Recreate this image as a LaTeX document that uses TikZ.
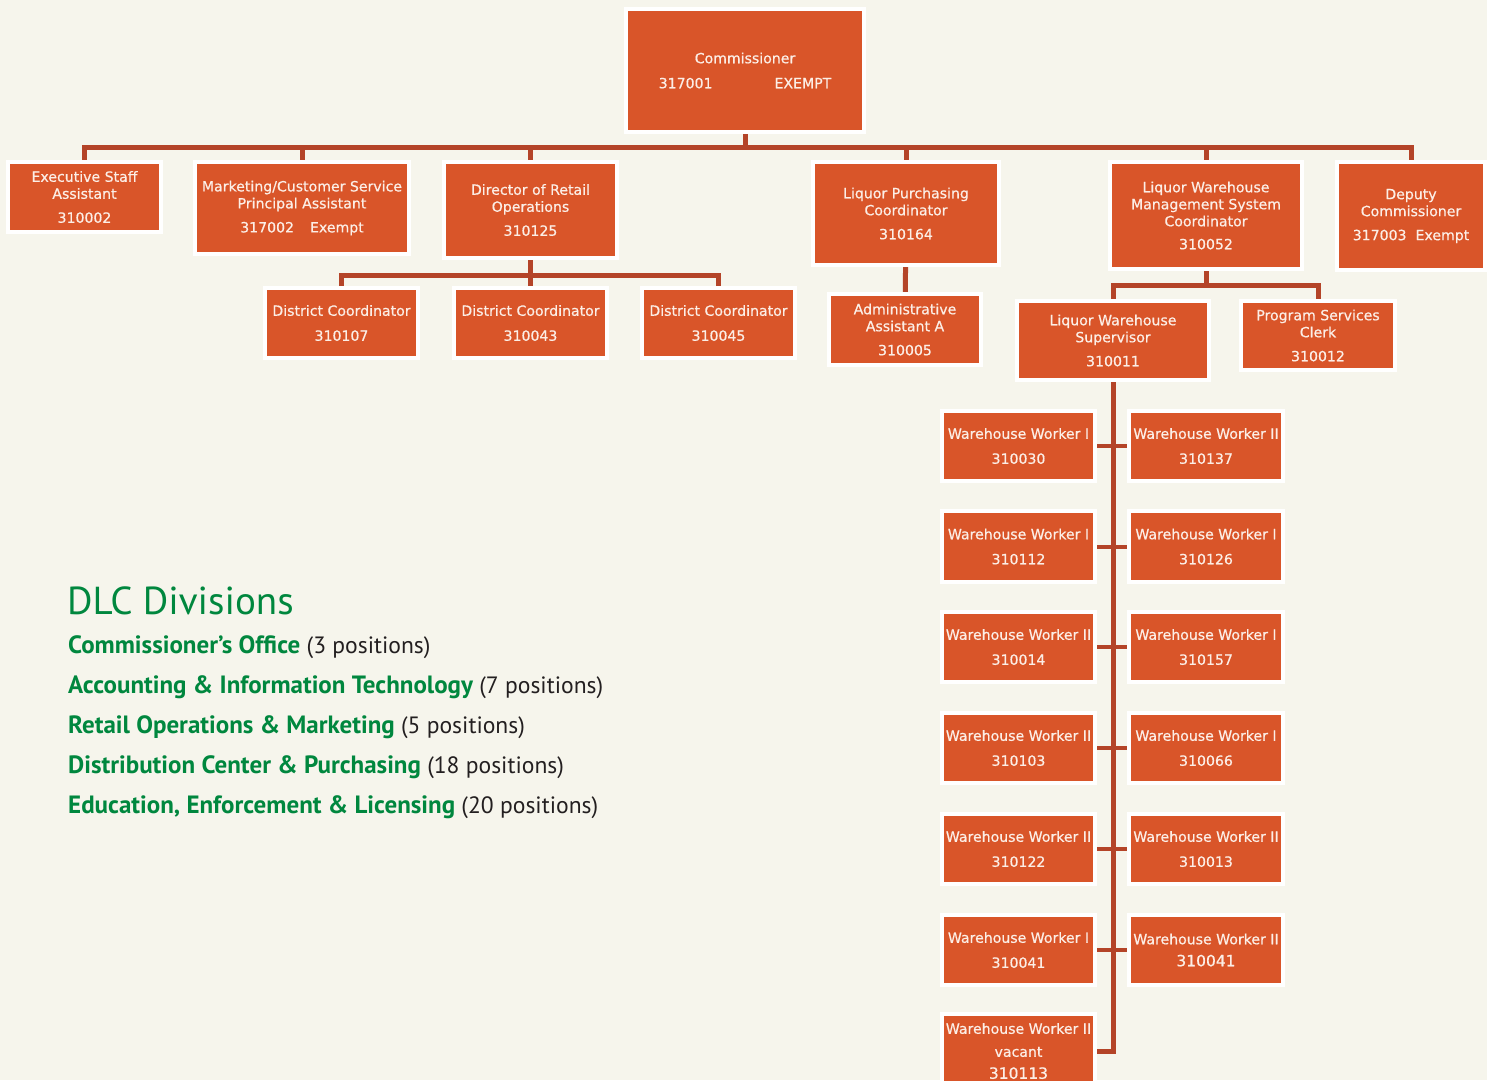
\documentclass[tikz,border=0pt]{standalone}
\usepackage{fontspec}
\setmainfont{DejaVu Sans}
\newfontfamily\boxfont{DejaVu Sans}[FakeBold=0.6]
\newfontfamily\legfont{PT Sans}
\definecolor{bgcol}{RGB}{246,245,236}
\definecolor{boxor}{RGB}{217,85,41}
\definecolor{conn}{RGB}{180,68,40}
\definecolor{dlcgreen}{RGB}{0,135,62}
\definecolor{txtdark}{RGB}{35,31,32}
\definecolor{boxtxt}{RGB}{252,238,230}
\pgfdeclarelayer{back}
\pgfdeclarelayer{lines}
\pgfsetlayers{back,lines,main}
\newcommand\bx[6]{\node[box, minimum width={#4-#2+4}, minimum height={#5-#3+4}] (#1) at ({(#2+#4)/2},{(#3+#5)/2}) {#6};}
\newcommand\grn[1]{{\fontsize{25}{28}\selectfont\bfseries\color{dlcgreen}#1}}
\begin{document}
\begin{tikzpicture}[x=1pt,y=-1pt,
  box/.style={fill=boxor, draw=white, line width=4pt, inner sep=0pt, text=boxtxt, align=center, font=\boxfont\fontsize{14.1}{17}\selectfont},
  link/.style={draw=conn, line width=5pt},
  tickline/.style={draw=conn, line width=4pt},
  leg/.style={anchor=base west, inner sep=0pt, font=\legfont\fontsize{23.6}{28}\selectfont, text=txtdark}]
\begin{pgfonlayer}{back}
\fill[bgcol] (0,0) rectangle (1487,1080);
\end{pgfonlayer}
\useasboundingbox (0,0) rectangle (1487,1080);

% top
\bx{comm}{628}{11}{862}{130}{Commissioner\\[8pt]317001\hspace{62pt}EXEMPT}
% row 1
\bx{exec}{10}{164}{159}{230}{Executive Staff\\Assistant\\[7pt]310002}
\bx{mkt}{197}{164}{407}{252}{Marketing/Customer Service\\Principal Assistant\\[7pt]317002\hspace{16pt}Exempt}
\bx{dir}{446}{164}{615}{256}{Director of Retail\\Operations\\[7pt]310125}
\bx{purch}{815}{164}{997}{263}{Liquor Purchasing\\Coordinator\\[7pt]310164}
\bx{lwms}{1112}{164}{1300}{267}{Liquor Warehouse\\Management System\\Coordinator\\[6pt]310052}
\bx{dep}{1339}{164}{1483}{268}{Deputy\\Commissioner\\[7pt]317003\hspace{9pt}Exempt}
% row 2
\bx{dca}{267}{290}{416}{356}{District Coordinator\\[8pt]310107}
\bx{dcb}{456}{290}{605}{356}{District Coordinator\\[8pt]310043}
\bx{dcc}{644}{290}{793}{356}{District Coordinator\\[8pt]310045}
\bx{admin}{831}{296}{979}{363}{Administrative\\Assistant A\\[7pt]310005}
\bx{sup}{1019}{303}{1207}{378}{Liquor Warehouse\\Supervisor\\[7pt]310011}
\bx{clerk}{1243}{303}{1393}{368}{Program Services\\Clerk\\[7pt]310012}
% warehouse workers
\bx{wla}{944}{413}{1093}{479}{Warehouse Worker I\\[8pt]310030}
\bx{wra}{1131}{413}{1281}{479}{Warehouse Worker II\\[8pt]310137}
\bx{wlb}{944}{513}{1093}{580}{Warehouse Worker I\\[8pt]310112}
\bx{wrb}{1131}{513}{1281}{580}{Warehouse Worker I\\[8pt]310126}
\bx{wlc}{944}{614}{1093}{680}{Warehouse Worker II\\[8pt]310014}
\bx{wrc}{1131}{614}{1281}{680}{Warehouse Worker I\\[8pt]310157}
\bx{wld}{944}{715}{1093}{781}{Warehouse Worker II\\[8pt]310103}
\bx{wrd}{1131}{715}{1281}{781}{Warehouse Worker I\\[8pt]310066}
\bx{wle}{944}{816}{1093}{882}{Warehouse Worker II\\[8pt]310122}
\bx{wre}{1131}{816}{1281}{882}{Warehouse Worker II\\[8pt]310013}
\bx{wlf}{944}{917}{1093}{983}{Warehouse Worker I\\[8pt]310041}
\bx{wrf}{1131}{917}{1281}{983}{Warehouse Worker II\\[5pt]{\fontsize{15.5}{17}\selectfont 310041}}
\bx{wlg}{944}{1016}{1093}{1086}{Warehouse Worker II\\[6pt]vacant\\[5pt]{\fontsize{15.5}{17}\selectfont 310113}}

\coordinate (barA) at (745,147);
\coordinate (barB) at (530,275);
\coordinate (barC) at (1206,285);
\begin{pgfonlayer}{lines}
\draw[link] (comm.center) -- (comm.center |- barA);
\draw[link] (exec.center) -- (exec.center |- barA) -- (dep.center |- barA) -- (dep.center);
\draw[link] (mkt.center) -- (mkt.center |- barA);
\draw[link] (dir.center) -- (dir.center |- barA);
\draw[link] (purch.center) -- (purch.center |- barA);
\draw[link] (lwms.center) -- (lwms.center |- barA);
% director
\draw[link] (dir.center) -- (dir.center |- barB);
\draw[link] (dca.center) -- (dca.center |- barB) -- (dcc.center |- barB) -- (dcc.center);
\draw[link] (dcb.center) -- (dcb.center |- barB);
% purchasing
\draw[link] (purch.center) -- (admin.center);
% lwms
\draw[link] (lwms.center) -- (lwms.center |- barC);
\draw[link] (sup.center) -- (sup.center |- barC) -- (clerk.center |- barC) -- (clerk.center);
% spine
\draw[link] (sup.center) -- (sup.center |- wlg.east) -- (wlg.center);
\foreach \l/\r in {wla/wra,wlb/wrb,wlc/wrc,wld/wrd,wle/wre,wlf/wrf}
  \draw[tickline] (\l.east) -- (\r.west);
\end{pgfonlayer}

% legend
\node[anchor=base west, inner sep=0pt, font=\legfont\fontsize{39}{44}\selectfont, text=dlcgreen] (title) at (67,614) {DLC Divisions};
\node[leg] (la) at (68,653) {\grn{Commissioner’s Office} (3 positions)};
\node[leg] (lb) at (68,693) {\grn{Accounting \& Information Technology} (7 positions)};
\node[leg] (lc) at (68,733) {\grn{Retail Operations \& Marketing} (5 positions)};
\node[leg] (ld) at (68,773) {\grn{Distribution Center \& Purchasing} (18 positions)};
\node[leg] (le) at (68,813) {\grn{Education, Enforcement \& Licensing} (20 positions)};
\end{tikzpicture}
\end{document}
